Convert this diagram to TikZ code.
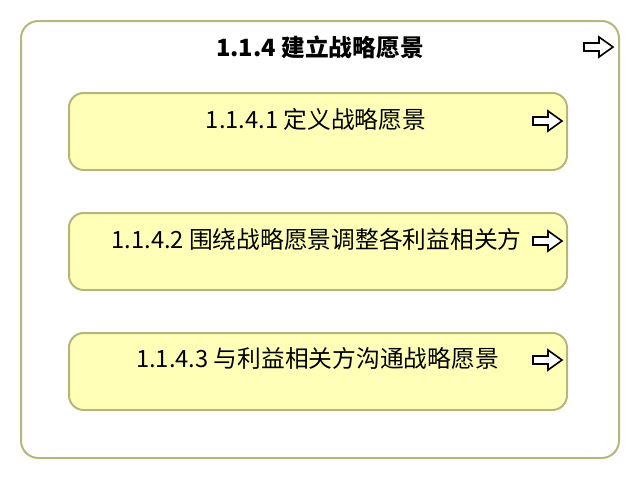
\documentclass[tikz,border=0pt]{standalone}
\usepackage{fontspec}
\setmainfont{Noto Sans CJK SC}
\usetikzlibrary{positioning}
\definecolor{boxline}{RGB}{181,183,122}
\definecolor{boxfill}{RGB}{255,255,183}
\tikzset{
  outerbox/.style={draw=boxline, line width=1.5pt, rounded corners=13pt,
    minimum width=448.5pt, minimum height=327.75pt, inner sep=0pt},
  taskbox/.style={draw=boxline, fill=boxfill, line width=1.5pt, rounded corners=11pt,
    minimum width=373.5pt, minimum height=57.75pt, inner sep=0pt},
  tasklabel/.style={font=\fontsize{17.8}{20}\selectfont, inner sep=0pt},
  flowarrow/.pic={
    \draw[line width=1.2pt, fill=white] (-14,-4) -- (1,-4) -- (1,-10) -- (15,0)
      -- (1,10) -- (1,4) -- (-14,4) -- cycle;
  }
}
\begin{document}
\begin{tikzpicture}[x=0.75pt,y=-0.75pt]
\useasboundingbox (0,0) rectangle (640,480);
% outer box
\node[outerbox] (vision) at (320,239.5) {};
\node[tasklabel, font=\bfseries\fontsize{17.8}{20}\selectfont] (visiontitle) at (320,47) {1.1.4 建立战略愿景};
\pic at (598,47) {flowarrow};
% sub tasks
\node[taskbox] (define) at (318,131.5) {};
\node[taskbox] (align) at (318,251.5) {};
\node[taskbox] (communicate) at (318,371.5) {};
\node[tasklabel] (definetext) at (316,119) {1.1.4.1 定义战略愿景};
\node[tasklabel] (aligntext) at (316.5,239) {1.1.4.2 围绕战略愿景调整各利益相关方};
\node[tasklabel] (communicatetext) at (317.5,358) {1.1.4.3 与利益相关方沟通战略愿景};
\pic at (547,121) {flowarrow};
\pic at (547,241) {flowarrow};
\pic at (547,360) {flowarrow};
\end{tikzpicture}
\end{document}
